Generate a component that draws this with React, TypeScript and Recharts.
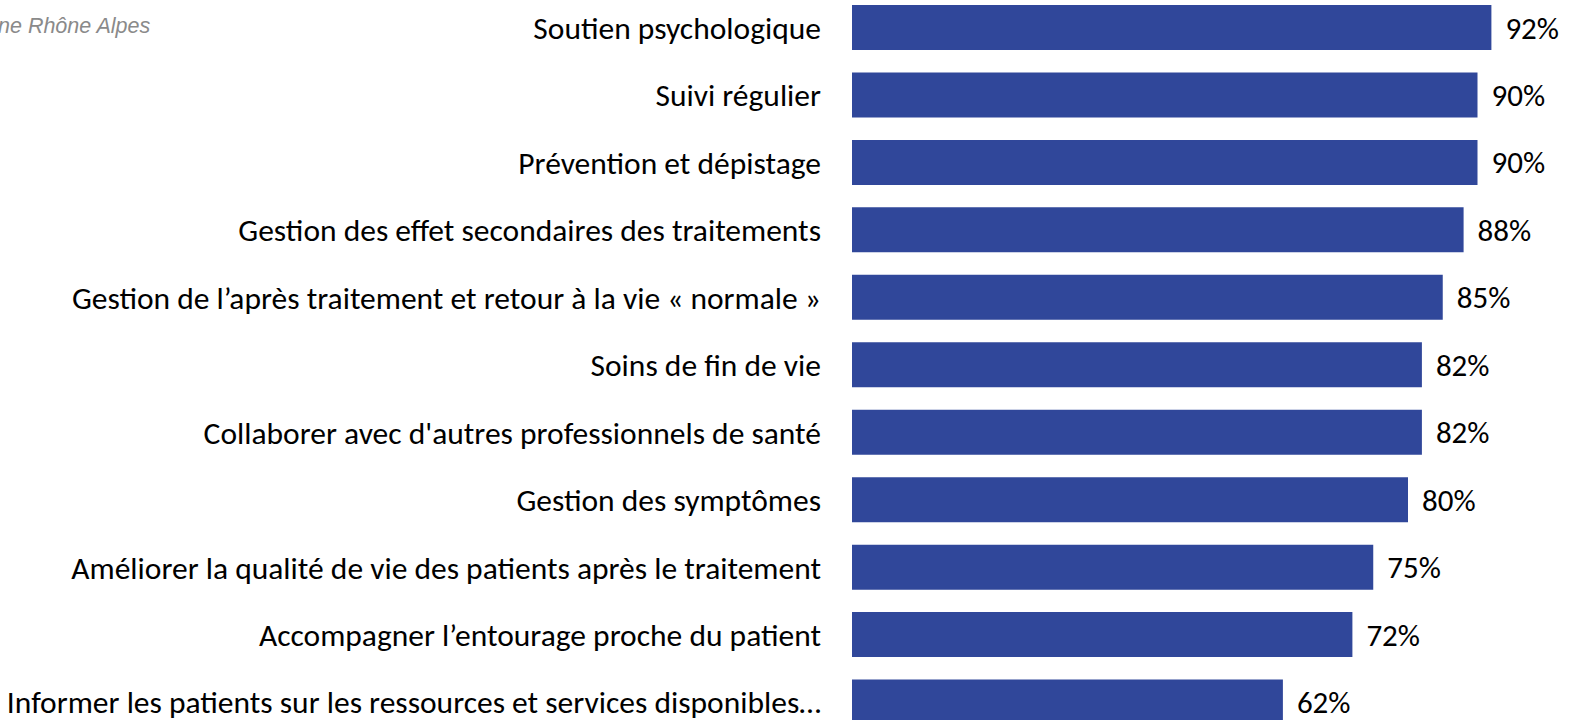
import React from 'react';
import { BarChart, Bar, XAxis, YAxis, LabelList } from 'recharts';

const categories = [
  'Soutien psychologique',
  'Suivi régulier',
  'Prévention et dépistage',
  'Gestion des effet secondaires des traitements',
  'Gestion de l’après traitement et retour à la vie « normale »',
  'Soins de fin de vie',
  "Collaborer avec d'autres professionnels de santé",
  'Gestion des symptômes',
  'Améliorer la qualité de vie des patients après le traitement',
  'Accompagner l’entourage proche du patient',
  'Informer les patients sur les ressources et services disponibles…',
];

const values = [92, 90, 90, 88, 85, 82, 82, 80, 75, 72, 62];

const data = categories.map((name, i) => ({ name, value: values[i] }));

const FONT = 'Carlito, Calibri, Lato, sans-serif';

const App: React.FC = () => {
  return (
    <div style={{ position: 'absolute', left: 0, top: 0, width: 1573, height: 720, overflow: 'hidden', background: '#fff' }}>
      <div
        style={{
          position: 'absolute',
          left: -2,
          top: 14,
          fontFamily: 'Arial, "Liberation Sans", sans-serif',
          fontStyle: 'italic',
          fontSize: 21.5,
          color: '#8a8a8a',
          whiteSpace: 'nowrap',
        }}
      >
        ne Rhône Alpes
      </div>
      <div style={{ position: 'absolute', left: 0, top: -6 }}>
        <BarChart
          width={1573}
          height={742}
          data={data}
          layout="vertical"
          margin={{ top: 0, right: 26, left: 0, bottom: 0 }}
        >
          <XAxis type="number" domain={[0, 100]} hide />
          <YAxis
            type="category"
            dataKey="name"
            width={852}
            axisLine={false}
            tickLine={false}
            tickSize={0}
            tickMargin={31}
            interval={0}
            tick={{ fill: '#000', fontSize: 31.5, fontFamily: FONT }}
          />
          <Bar dataKey="value" fill="#30479a" barSize={45} isAnimationActive={false}>
            <LabelList
              dataKey="value"
              position="right"
              offset={14}
              formatter={(v: number) => `${v}%`}
              style={{ fill: '#000', fontSize: 31, fontFamily: FONT }}
            />
          </Bar>
        </BarChart>
      </div>
    </div>
  );
};

export default App;
